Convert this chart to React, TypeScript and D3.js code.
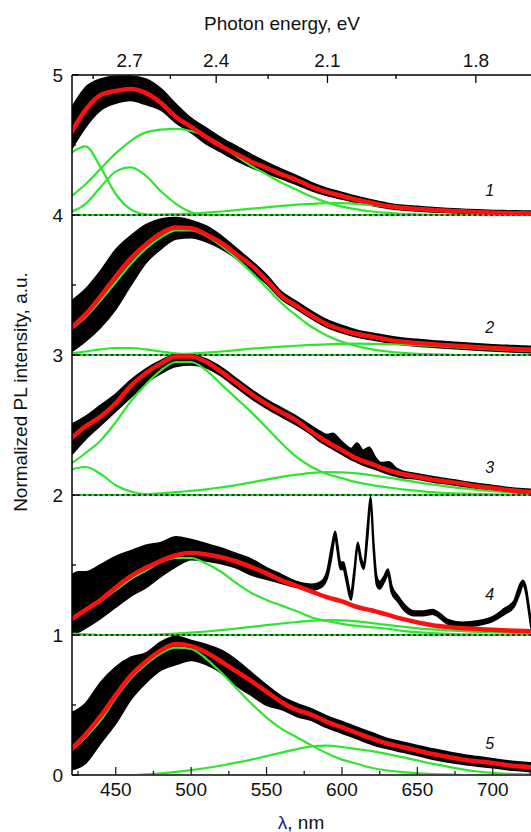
import React from 'react';
import * as d3 from 'd3';

// ---------- data ----------
const wavelengthGrid = [420, 430, 440, 450, 460, 470, 480, 490, 500, 510, 520, 530, 540, 550, 560, 570, 580, 590, 600, 610, 620, 630, 640, 650, 660, 670, 680, 690, 700, 710, 720, 730];

// spectrum 1 (offset 4)
const s1Fit = [0.58, 0.75, 0.857, 0.886, 0.9, 0.871, 0.8, 0.7, 0.629, 0.557, 0.49, 0.436, 0.38, 0.336, 0.29, 0.25, 0.2, 0.164, 0.136, 0.107, 0.086, 0.064, 0.05, 0.043, 0.036, 0.03, 0.025, 0.02, 0.016, 0.014, 0.012, 0.01];
const s1BlackLo = [0.46, 0.63, 0.75, 0.8, 0.82, 0.79, 0.75, 0.66, 0.59, 0.51, 0.45, 0.39, 0.34, 0.3, 0.26, 0.22, 0.175, 0.14, 0.115, 0.09, 0.07, 0.05, 0.037, 0.03, 0.024, 0.019, 0.014, 0.01, 0.006, 0.004, 0.002, 0.0];
const s1BlackHi = [0.75, 0.91, 0.97, 0.99, 0.99, 0.97, 0.9, 0.79, 0.69, 0.62, 0.55, 0.49, 0.43, 0.375, 0.325, 0.28, 0.23, 0.19, 0.16, 0.13, 0.105, 0.083, 0.068, 0.06, 0.052, 0.045, 0.04, 0.035, 0.031, 0.029, 0.027, 0.025];
const s1CompA = [0.44, 0.49, 0.34, 0.15, 0.04, 0.005, 0, 0, 0, 0, 0, 0, 0, 0, 0, 0, 0, 0, 0, 0, 0, 0, 0, 0, 0, 0, 0, 0, 0, 0, 0, 0];
const s1CompB = [0.02, 0.08, 0.2, 0.31, 0.34, 0.28, 0.17, 0.08, 0.02, 0, 0, 0, 0, 0, 0, 0, 0, 0, 0, 0, 0, 0, 0, 0, 0, 0, 0, 0, 0, 0, 0, 0];
const s1CompC = [0.13, 0.22, 0.33, 0.44, 0.53, 0.59, 0.61, 0.615, 0.6, 0.56, 0.5, 0.42, 0.35, 0.29, 0.23, 0.18, 0.13, 0.09, 0.06, 0.04, 0.025, 0.015, 0.008, 0.004, 0.002, 0, 0, 0, 0, 0, 0, 0];
const s1CompD = [0, 0, 0, 0, 0, 0, 0.003, 0.006, 0.01, 0.017, 0.025, 0.035, 0.045, 0.055, 0.065, 0.074, 0.08, 0.085, 0.085, 0.08, 0.07, 0.062, 0.055, 0.047, 0.04, 0.034, 0.03, 0.025, 0.02, 0.016, 0.013, 0.011];

// spectrum 2 (offset 3)
const s2Fit = [0.19, 0.29, 0.42, 0.56, 0.69, 0.79, 0.87, 0.91, 0.905, 0.86, 0.8, 0.72, 0.64, 0.535, 0.42, 0.35, 0.28, 0.22, 0.18, 0.15, 0.13, 0.11, 0.095, 0.085, 0.077, 0.07, 0.063, 0.056, 0.05, 0.045, 0.04, 0.037];
const s2BlackLo = [0.02, 0.1, 0.2, 0.33, 0.5, 0.66, 0.76, 0.83, 0.84, 0.81, 0.76, 0.69, 0.6, 0.51, 0.4, 0.33, 0.26, 0.2, 0.16, 0.13, 0.11, 0.09, 0.075, 0.065, 0.057, 0.05, 0.043, 0.036, 0.03, 0.025, 0.02, 0.017];
const s2BlackHi = [0.38, 0.47, 0.6, 0.75, 0.85, 0.93, 0.97, 0.98, 0.96, 0.92, 0.85, 0.76, 0.67, 0.57, 0.45, 0.38, 0.31, 0.25, 0.21, 0.175, 0.155, 0.135, 0.12, 0.11, 0.1, 0.093, 0.085, 0.078, 0.072, 0.067, 0.062, 0.058];
const s2CompA = [0.01, 0.025, 0.04, 0.05, 0.05, 0.04, 0.025, 0.012, 0.005, 0, 0, 0, 0, 0, 0, 0, 0, 0, 0, 0, 0, 0, 0, 0, 0, 0, 0, 0, 0, 0, 0, 0];
const s2CompB = [0.18, 0.27, 0.39, 0.52, 0.65, 0.76, 0.84, 0.89, 0.89, 0.85, 0.78, 0.69, 0.59, 0.48, 0.37, 0.28, 0.2, 0.14, 0.095, 0.063, 0.04, 0.025, 0.015, 0.009, 0.005, 0.002, 0, 0, 0, 0, 0, 0];
const s2CompC = [0, 0, 0, 0, 0, 0, 0, 0.005, 0.01, 0.017, 0.025, 0.035, 0.045, 0.053, 0.06, 0.066, 0.072, 0.076, 0.08, 0.081, 0.08, 0.078, 0.075, 0.07, 0.065, 0.058, 0.052, 0.046, 0.04, 0.035, 0.03, 0.025];

// spectrum 3 (offset 2)
const s3Fit = [0.4, 0.49, 0.56, 0.655, 0.78, 0.87, 0.94, 0.99, 0.99, 0.95, 0.88, 0.8, 0.72, 0.65, 0.59, 0.53, 0.45, 0.38, 0.32, 0.26, 0.22, 0.18, 0.15, 0.13, 0.11, 0.095, 0.08, 0.06, 0.05, 0.035, 0.025, 0.02];
const s3BlackLambda = [420, 430, 440, 450, 460, 470, 480, 490, 500, 510, 520, 530, 540, 550, 560, 570, 580, 586, 590, 594, 598, 602, 606, 610, 614, 618, 622, 626, 631, 636, 640, 650, 660, 670, 680, 690, 700, 710, 720, 730];
const s3BlackLo = [0.28, 0.4, 0.5, 0.6, 0.7, 0.8, 0.87, 0.92, 0.93, 0.91, 0.85, 0.77, 0.69, 0.62, 0.56, 0.5, 0.43, 0.38, 0.355, 0.33, 0.305, 0.28, 0.255, 0.235, 0.215, 0.2, 0.185, 0.17, 0.15, 0.135, 0.125, 0.115, 0.095, 0.08, 0.065, 0.048, 0.036, 0.024, 0.014, 0.008];
const s3BlackHi = [0.5, 0.56, 0.64, 0.72, 0.82, 0.9, 0.96, 1.0, 1.0, 0.97, 0.91, 0.83, 0.75, 0.68, 0.62, 0.56, 0.49, 0.45, 0.43, 0.44, 0.4, 0.36, 0.33, 0.37, 0.32, 0.34, 0.27, 0.23, 0.235, 0.19, 0.17, 0.15, 0.13, 0.113, 0.097, 0.08, 0.067, 0.052, 0.042, 0.036];
const s3CompA = [0.18, 0.2, 0.15, 0.07, 0.025, 0.005, 0, 0, 0, 0, 0, 0, 0, 0, 0, 0, 0, 0, 0, 0, 0, 0, 0, 0, 0, 0, 0, 0, 0, 0, 0, 0];
const s3CompB = [0.22, 0.3, 0.39, 0.52, 0.67, 0.79, 0.89, 0.95, 0.95, 0.89, 0.79, 0.69, 0.59, 0.48, 0.37, 0.27, 0.2, 0.15, 0.12, 0.09, 0.07, 0.055, 0.04, 0.03, 0.02, 0.014, 0.01, 0.007, 0.004, 0.002, 0, 0];
const s3CompC = [0, 0, 0, 0, 0, 0.005, 0.012, 0.02, 0.03, 0.04, 0.055, 0.07, 0.09, 0.11, 0.13, 0.145, 0.158, 0.164, 0.162, 0.155, 0.14, 0.125, 0.108, 0.09, 0.075, 0.06, 0.047, 0.037, 0.028, 0.021, 0.016, 0.012];

// spectrum 4 (offset 1)
const s4Fit = [0.11, 0.18, 0.25, 0.34, 0.42, 0.48, 0.53, 0.57, 0.585, 0.575, 0.555, 0.525, 0.485, 0.44, 0.39, 0.35, 0.31, 0.27, 0.24, 0.2, 0.175, 0.145, 0.115, 0.09, 0.07, 0.057, 0.048, 0.043, 0.037, 0.032, 0.028, 0.025];
const s4BlackLambda = [420, 425, 430, 440, 450, 460, 470, 480, 490, 500, 510, 520, 530, 540, 550, 560, 570, 580, 586, 590, 593, 595.5, 597, 599, 601, 603, 606, 608, 610.5, 612.5, 614.5, 617, 619, 621, 623, 625, 628, 630.5, 633, 637, 642, 648, 654, 660, 664, 670, 680, 690, 700, 708, 714, 718, 720, 722, 724, 726, 730];
const s4BlackLo = [0.0, 0.02, 0.05, 0.12, 0.2, 0.28, 0.34, 0.42, 0.49, 0.54, 0.53, 0.51, 0.48, 0.43, 0.4, 0.37, 0.34, 0.32, 0.34, 0.4, 0.55, 0.7, 0.6, 0.47, 0.47, 0.38, 0.25, 0.4, 0.63, 0.52, 0.47, 0.7, 0.95, 0.6, 0.36, 0.33, 0.38, 0.43, 0.3, 0.24, 0.17, 0.14, 0.14, 0.15, 0.13, 0.08, 0.06, 0.07, 0.1, 0.15, 0.2, 0.3, 0.36, 0.3, 0.16, 0.03, 0.02];
const s4BlackHi = [0.42, 0.45, 0.45, 0.5, 0.56, 0.6, 0.64, 0.66, 0.7, 0.68, 0.65, 0.62, 0.58, 0.54, 0.48, 0.43, 0.38, 0.36, 0.38, 0.45, 0.62, 0.74, 0.65, 0.52, 0.52, 0.43, 0.3, 0.45, 0.66, 0.56, 0.5, 0.78, 0.99, 0.66, 0.42, 0.38, 0.42, 0.47, 0.35, 0.28, 0.21, 0.17, 0.17, 0.18, 0.16, 0.11, 0.09, 0.1, 0.13, 0.19, 0.24, 0.36, 0.39, 0.34, 0.2, 0.06, 0.05];
const s4CompA = [0.01, 0.005, 0, 0, 0, 0, 0, 0, 0, 0, 0, 0, 0, 0, 0, 0, 0, 0, 0, 0, 0, 0, 0, 0, 0, 0, 0, 0, 0, 0, 0, 0];
const s4CompB = [0.1, 0.17, 0.24, 0.32, 0.4, 0.46, 0.52, 0.55, 0.55, 0.51, 0.45, 0.37, 0.3, 0.25, 0.21, 0.17, 0.125, 0.1, 0.08, 0.065, 0.055, 0.045, 0.03, 0.02, 0.014, 0.009, 0.005, 0.003, 0, 0, 0, 0];
const s4CompC = [0, 0, 0, 0, 0, 0, 0.005, 0.01, 0.017, 0.025, 0.035, 0.046, 0.058, 0.07, 0.082, 0.093, 0.102, 0.106, 0.104, 0.097, 0.085, 0.072, 0.06, 0.048, 0.04, 0.033, 0.027, 0.023, 0.019, 0.016, 0.013, 0.011];

// spectrum 5 (offset 0)
const s5Fit = [0.18, 0.29, 0.42, 0.57, 0.71, 0.81, 0.89, 0.935, 0.92, 0.875, 0.81, 0.74, 0.67, 0.595, 0.52, 0.465, 0.43, 0.38, 0.34, 0.3, 0.26, 0.225, 0.2, 0.175, 0.15, 0.13, 0.11, 0.097, 0.085, 0.07, 0.06, 0.05];
const s5BlackLo = [0.036, 0.086, 0.23, 0.37, 0.54, 0.66, 0.75, 0.79, 0.82, 0.79, 0.73, 0.64, 0.57, 0.5, 0.47, 0.42, 0.39, 0.34, 0.3, 0.26, 0.22, 0.19, 0.165, 0.14, 0.115, 0.095, 0.078, 0.065, 0.053, 0.04, 0.03, 0.02];
const s5BlackHi = [0.44, 0.51, 0.66, 0.77, 0.84, 0.87, 0.95, 0.99, 0.96, 0.93, 0.89, 0.82, 0.73, 0.64, 0.56, 0.51, 0.47, 0.42, 0.38, 0.34, 0.3, 0.26, 0.235, 0.21, 0.185, 0.165, 0.145, 0.13, 0.115, 0.1, 0.09, 0.08];
const s5CompA = [0.17, 0.27, 0.39, 0.55, 0.69, 0.79, 0.87, 0.91, 0.9, 0.83, 0.73, 0.62, 0.51, 0.41, 0.33, 0.27, 0.21, 0.155, 0.11, 0.08, 0.05, 0.032, 0.02, 0.012, 0.007, 0.004, 0, 0, 0, 0, 0, 0];
const s5CompB = [0, 0, 0, 0, 0, 0.005, 0.012, 0.022, 0.035, 0.05, 0.068, 0.088, 0.11, 0.135, 0.16, 0.185, 0.205, 0.21, 0.2, 0.185, 0.17, 0.15, 0.128, 0.104, 0.08, 0.06, 0.04, 0.025, 0.015, 0.009, 0.005, 0.003];

const spectrumOffsets = [4, 3, 2, 1, 0];
const spectrumLabels = ['1', '2', '3', '4', '5'];
const labelWavelength = [698, 698, 698, 698, 698];
const labelValue = [0.18, 0.2, 0.2, 0.29, 0.23];
const dashedBaselines = [1, 2, 3, 4];

const yMajorTicks = [0, 1, 2, 3, 4, 5];
const yMinorTicks = [0.5, 1.5, 2.5, 3.5, 4.5];
const xMajorTicks = [450, 500, 550, 600, 650, 700];
const xMinorTicks = [425, 475, 525, 575, 625, 675, 725];
const energyMajorTicks = [2.7, 2.4, 2.1, 1.8];
const energyMinorTicks = [2.85, 2.55, 2.25, 1.95];
const HC = 1239.84;

const spectra = [
  { fit: s1Fit, comps: [s1CompA, s1CompB, s1CompC, s1CompD], bl: wavelengthGrid, lo: s1BlackLo, hi: s1BlackHi },
  { fit: s2Fit, comps: [s2CompA, s2CompB, s2CompC], bl: wavelengthGrid, lo: s2BlackLo, hi: s2BlackHi },
  { fit: s3Fit, comps: [s3CompA, s3CompB, s3CompC], bl: s3BlackLambda, lo: s3BlackLo, hi: s3BlackHi },
  { fit: s4Fit, comps: [s4CompA, s4CompB, s4CompC], bl: s4BlackLambda, lo: s4BlackLo, hi: s4BlackHi },
  { fit: s5Fit, comps: [s5CompA, s5CompB], bl: wavelengthGrid, lo: s5BlackLo, hi: s5BlackHi },
];

// ---------- layout ----------
const W = 531;
const H = 832;
const left = 72;
const right = 538;
const top = 75;
const bottom = 775;
const FONT = '"Liberation Sans", Arial, Helvetica, sans-serif';
const GREEN = '#2fe52f';
const RED = '#ff1010';

export default function App() {
  const x = d3.scaleLinear().domain([421, 730]).range([left, right]);
  const y = d3.scaleLinear().domain([0, 5]).range([bottom, top]);

  const lineFor = (off: number, xs: number[]) =>
    d3.line<number>()
      .x((_, i) => x(xs[i]))
      .y((v) => y(v + off))
      .curve(d3.curveMonotoneX);

  const areaFor = (off: number, xs: number[], lo: number[], hi: number[]) =>
    d3.area<number>()
      .x((_, i) => x(xs[i]))
      .y0((_, i) => y(lo[i] + off))
      .y1((_, i) => y(hi[i] + off))
      .curve(d3.curveMonotoneX);

  return (
    <svg width={W} height={H} style={{ position: 'absolute', left: 0, top: 0, background: '#fff' }} fontFamily={FONT}>
      <defs>
        <clipPath id="plotClip">
          <rect x={left} y={top} width={right - left} height={bottom - top + 2} />
        </clipPath>
      </defs>
      <rect x={0} y={0} width={W} height={H} fill="#fff" />

      <g clipPath="url(#plotClip)">
        {spectra.map((s, k) => {
          const off = spectrumOffsets[k];
          const a = areaFor(off, s.bl, s.lo, s.hi)(s.lo) || '';
          return (
            <g key={'b' + k}>
              <path d={a} fill="#000" stroke="#000" strokeWidth={2} strokeLinejoin="round" />
              {s.comps.map((c, j) => (
                <path key={j} d={lineFor(off, wavelengthGrid)(c) || ''} fill="none" stroke={GREEN} strokeWidth={2.2} />
              ))}
            </g>
          );
        })}
        {dashedBaselines.map((b) => (
          <line key={b} x1={left} x2={right} y1={y(b)} y2={y(b)} stroke="#111" strokeWidth={1.6} strokeDasharray="3,2.5" />
        ))}
        {spectra.map((s, k) => (
          <path key={'r' + k} d={lineFor(spectrumOffsets[k], wavelengthGrid)(s.fit) || ''} fill="none" stroke={RED} strokeWidth={4.5} />
        ))}
      </g>

      {/* axes */}
      <line x1={left} x2={left} y1={top} y2={bottom} stroke="#000" strokeWidth={1.5} />
      <line x1={left} x2={right} y1={top} y2={top} stroke="#000" strokeWidth={1.5} />
      <line x1={left} x2={right} y1={bottom} y2={bottom} stroke="#444" strokeWidth={2} />

      {yMajorTicks.map((t) => (
        <g key={'ym' + t}>
          <line x1={left} x2={left + 7} y1={y(t)} y2={y(t)} stroke="#000" strokeWidth={1.3} />
          <text x={63} y={y(t) + 7} fontSize={19} textAnchor="end" fill="#111">{t}</text>
        </g>
      ))}
      {yMinorTicks.map((t) => (
        <line key={'yn' + t} x1={left} x2={left + 4} y1={y(t)} y2={y(t)} stroke="#000" strokeWidth={1.3} />
      ))}

      {xMajorTicks.map((t) => (
        <g key={'xm' + t}>
          <line x1={x(t)} x2={x(t)} y1={bottom} y2={bottom - 8} stroke="#222" strokeWidth={1.3} />
          <text x={x(t)} y={796} fontSize={19} textAnchor="middle" fill="#111">{t}</text>
        </g>
      ))}
      {xMinorTicks.map((t) => (
        <line key={'xn' + t} x1={x(t)} x2={x(t)} y1={bottom} y2={bottom - 4} stroke="#222" strokeWidth={1.3} />
      ))}

      {energyMajorTicks.map((e) => (
        <g key={'em' + e}>
          <line x1={x(HC / e)} x2={x(HC / e)} y1={top} y2={top + 8} stroke="#000" strokeWidth={1.3} />
          <text x={x(HC / e)} y={67} fontSize={19} textAnchor="middle" fill="#111">{e.toFixed(1)}</text>
        </g>
      ))}
      {energyMinorTicks.map((e) => (
        <line key={'en' + e} x1={x(HC / e)} x2={x(HC / e)} y1={top} y2={top + 4} stroke="#000" strokeWidth={1.3} />
      ))}

      {/* titles */}
      <text x={282} y={30} fontSize={19} textAnchor="middle" fill="#111">Photon energy, eV</text>
      <text x={301} y={829} fontSize={19} textAnchor="middle" fill="#111">
        <tspan fill="#1c1c8a">λ</tspan>, nm
      </text>
      <text transform={`translate(27, 392) rotate(-90)`} fontSize={19} textAnchor="middle" fill="#111">
        Normalized PL intensity, a.u.
      </text>

      {spectrumLabels.map((l, k) => (
        <text key={l} x={x(labelWavelength[k])} y={y(spectrumOffsets[k] + labelValue[k]) + 6} fontSize={16} fontStyle="italic" textAnchor="middle" fill="#111">
          {l}
        </text>
      ))}
    </svg>
  );
}
